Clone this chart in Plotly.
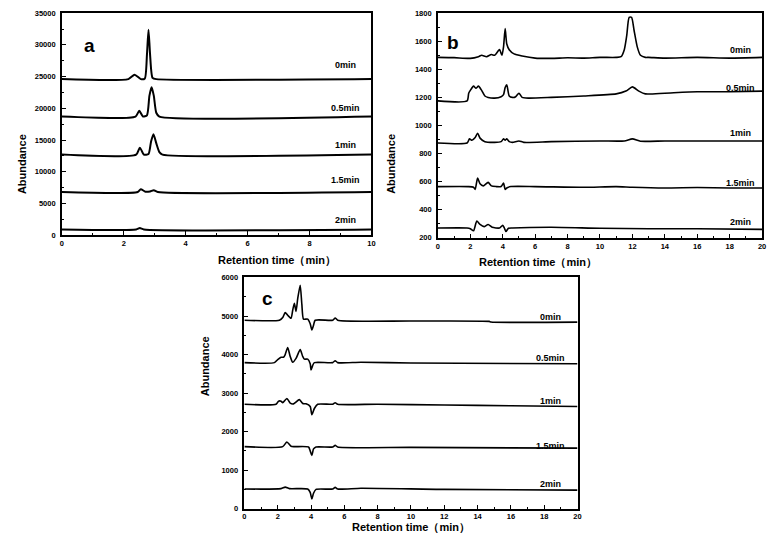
import plotly.graph_objects as go

# ---------------- data ----------------
labels = ["0min", "0.5min", "1min", "1.5min", "2min"]

# panel a
a_x = [
    [0, 2.15, 2.35, 2.55, 2.68, 2.75, 2.8, 2.85, 2.93, 3.05, 10],
    [0, 2.38, 2.5, 2.62, 2.75, 2.83, 2.9, 2.97, 3.05, 3.15, 10],
    [0, 2.4, 2.52, 2.65, 2.8, 2.88, 2.96, 3.05, 3.15, 3.25, 10],
    [0, 2.45, 2.55, 2.7, 2.85, 2.97, 3.1, 10],
    [0, 2.4, 2.52, 2.65, 10],
]
a_y = [
    [24600, 24600, 25300, 24600, 24700, 28500, 32400, 28500, 24800, 24600, 24600],
    [18700, 18700, 19600, 18700, 18900, 22000, 23300, 22000, 19300, 18700, 18700],
    [12700, 12700, 13800, 12700, 12800, 14700, 15900, 14500, 13100, 12700, 12700],
    [6800, 6800, 7250, 6850, 6900, 7100, 6800, 6800],
    [900, 900, 1130, 900, 900],
]
a_label_y = [26900, 20050, 14250, 8650, 2450]

# panel b
b_x = [
    [0, 1, 2, 2.5, 2.7, 3, 3.3, 3.5, 3.8, 3.95, 4.05, 4.15, 4.25, 4.4, 4.7, 5.2, 6, 7, 8, 9, 10, 11,
     11.3, 11.5, 11.65, 11.8, 11.95, 12.1, 12.3, 12.5, 12.8, 13, 14, 16, 18, 20],
    [0, 1.8, 1.9, 2.0, 2.2, 2.35, 2.5, 2.7, 2.9, 3.1, 3.5, 3.9, 4.05, 4.15, 4.25, 4.4, 4.6, 4.8, 5.0,
     5.2, 5.6, 7, 9, 11, 11.6, 12.0, 12.4, 12.8, 14, 16, 18, 20],
    [0, 1.8, 1.95, 2.1, 2.3, 2.45, 2.6, 2.9, 3.5, 3.9, 4.05, 4.15, 4.25, 4.4, 4.6, 5.0, 5.3, 7, 10,
     11.5, 12.0, 12.5, 14, 16, 18, 20],
    [0, 1.9, 2.2, 2.3, 2.45, 2.6, 2.8, 3.1, 3.3, 3.6, 3.9, 4.05, 4.15, 4.25, 4.5, 6, 9, 11, 12, 14,
     16, 18, 20],
    [0, 1.8, 2.0, 2.2, 2.4, 2.6, 2.85, 3.1, 3.35, 3.8, 4.0, 4.1, 4.2, 4.35, 4.6, 7, 10, 13, 16, 20],
]
b_y = [
    [1485, 1483, 1478, 1490, 1500, 1490, 1505, 1500, 1540, 1500, 1560, 1690, 1580, 1540, 1510, 1495,
     1480, 1478, 1482, 1480, 1485, 1485, 1490, 1540, 1640, 1770, 1770, 1680, 1560, 1500, 1485,
     1485, 1480, 1485, 1480, 1485],
    [1175, 1175, 1230, 1250, 1280, 1265, 1280, 1250, 1210, 1200, 1195, 1205, 1220, 1270, 1290, 1210,
     1200, 1205, 1230, 1200, 1195, 1200, 1210, 1225, 1245, 1275, 1245, 1225, 1230, 1240, 1240, 1245],
    [875, 875, 905, 895, 915, 945, 910, 885, 880, 885, 905, 895, 905, 885, 880, 890, 880, 885, 890,
     890, 905, 888, 890, 890, 890, 890],
    [565, 565, 560, 545, 625, 585, 570, 595, 570, 565, 565, 590, 545, 555, 565, 565, 560, 565, 560,
     555, 558, 555, 555],
    [270, 270, 265, 250, 320, 295, 280, 295, 275, 270, 290, 270, 245, 268, 270, 275, 268, 265, 265,
     260],
]
b_label_y = [1540, 1270, 945, 592, 312]

# panel c
c_x = [
    [0, 2.1, 2.3, 2.45, 2.6, 2.8, 2.9, 3.0, 3.1, 3.2, 3.35, 3.45, 3.55, 3.8, 3.95, 4.05, 4.15, 4.25,
     5.3, 5.45, 5.6, 10, 14.7, 14.8, 20],
    [0, 1.8, 2.0, 2.2, 2.35, 2.45, 2.6, 2.75, 2.9, 3.1, 3.35, 3.5, 3.6, 3.8, 3.95, 4.0, 4.1, 4.2,
     5.3, 5.45, 5.6, 7, 10, 20],
    [0, 1.9, 2.05, 2.2, 2.3, 2.55, 2.75, 2.95, 3.3, 3.5, 3.7, 3.95, 4.05, 4.2, 4.4, 5.3, 5.45, 5.6,
     8, 12, 16, 20],
    [0, 2.3, 2.55, 2.8, 3.0, 3.85, 3.95, 4.05, 4.15, 4.3, 5.3, 5.45, 5.6, 10, 20],
    [0, 2.2, 2.45, 2.7, 3.8, 3.95, 4.05, 4.15, 4.3, 5.3, 5.45, 5.6, 7, 12, 20],
]
c_y = [
    [4890, 4890, 4960, 5090, 5020, 4940, 5150, 5330, 5120, 5450, 5800, 5300, 4920, 4920, 4800, 4640,
     4760, 4890, 4890, 4950, 4890, 4870, 4860, 4845, 4840],
    [3790, 3790, 3870, 3930, 3930, 4000, 4180, 3950, 3800, 3900, 4130, 3950, 3880, 3880, 3760, 3600,
     3720, 3790, 3790, 3840, 3790, 3800, 3780, 3760],
    [2710, 2710, 2790, 2790, 2750, 2860, 2740, 2720, 2830, 2730, 2720, 2650, 2440, 2600, 2710, 2710,
     2750, 2710, 2710, 2690, 2670, 2650],
    [1610, 1610, 1730, 1620, 1610, 1600, 1500, 1380, 1550, 1600, 1600, 1645, 1600, 1590, 1570],
    [510, 520, 560, 520, 510, 420, 250, 400, 500, 510, 555, 510, 530, 500, 480],
]
c_label_y = [4970, 3900, 2800, 1630, 640]

panels = [
    dict(name="a", xs=a_x, ys=a_y, ly=a_label_y, lx=9.15, xr=[0, 10], yr=[0, 35000],
         xd=2, yd=5000, lw=2.0),
    dict(name="b", xs=b_x, ys=b_y, ly=b_label_y, lx=18.65, xr=[0, 20], yr=[200, 1800],
         xd=2, yd=200, lw=1.6),
    dict(name="c", xs=c_x, ys=c_y, ly=c_label_y, lx=18.4, xr=[0, 20], yr=[0, 6000],
         xd=2, yd=1000, lw=1.6),
]

W, H = 774, 553
# pixel boxes (left, top, right, bottom)
boxes = [(60.3, 9.3, 372.3, 235.0), (439.3, 9.3, 766.0, 237.7), (244.3, 278.0, 580.0, 513.0)]
ytitle_pos = [(12.3, 130), (392, 130), (197.3, 401)]
xtitle_pos = [(216, 261), (601.7, 263), (411.7, 541)]
letter_pos = [(81, 29), (454.3, 26), (267.7, 299.3)]

FONT = "Liberation Sans"
fig = go.Figure()
annotations = []

for i, p in enumerate(panels):
    sfx = "" if i == 0 else str(i + 1)
    xa, ya = "x" + sfx, "y" + sfx
    for xs, ys in zip(p["xs"], p["ys"]):
        fig.add_trace(go.Scatter(x=xs, y=ys, mode="lines", xaxis=xa, yaxis=ya,
                                 line=dict(color="black", width=p["lw"], shape="spline",
                                           smoothing=0.6),
                                 showlegend=False, hoverinfo="skip"))
    l, t, r, b = boxes[i]
    axis_common = dict(showline=True, linecolor="black", linewidth=1.5, mirror=True,
                       ticks="inside", ticklen=4, tickwidth=1.2, tickcolor="black",
                       showgrid=False, zeroline=False, tickformat="d",
                       tickfont=dict(family=FONT, size=7.5, color="black", weight="bold"))
    fig.layout["xaxis" + sfx] = dict(
        axis_common, domain=[l / W, r / W], range=p["xr"], dtick=p["xd"], tick0=0,
        anchor=ya, minor=dict(ticks="inside", ticklen=2, dtick=p["xd"] / 2, tickcolor="black"))
    fig.layout["yaxis" + sfx] = dict(
        axis_common, domain=[1 - b / H, 1 - t / H], range=p["yr"], dtick=p["yd"],
        tick0=0, anchor=xa, ticklabelstandoff=3,
        minor=dict(ticks="inside", ticklen=2, dtick=p["yd"] / 2, tickcolor="black"))
    for lab, yv in zip(labels, p["ly"]):
        annotations.append(dict(x=p["lx"], y=yv, xref=xa, yref=ya, text=lab, showarrow=False,
                                font=dict(family=FONT, size=9, color="black", weight="bold")))
    # titles
    annotations.append(dict(x=ytitle_pos[i][0] / W, y=1 - ytitle_pos[i][1] / H, xref="paper",
                            yref="paper", text="Abundance", textangle=-90, showarrow=False,
                            font=dict(family=FONT, size=11, color="black", weight="bold")))
    annotations.append(dict(x=xtitle_pos[i][0] / W, y=1 - xtitle_pos[i][1] / H, xref="paper",
                            yref="paper", text="Retention time（min）", showarrow=False,
                            font=dict(family=FONT, size=11, color="black", weight="bold")))
    annotations.append(dict(x=letter_pos[i][0] / W, y=1 - letter_pos[i][1] / H, xref="paper",
                            yref="paper", text=p["name"], showarrow=False,
                            font=dict(family=FONT, size=19, color="black", weight="bold")))

fig.update_layout(width=W, height=H, margin=dict(l=0, r=0, t=0, b=0),
                  paper_bgcolor="white", plot_bgcolor="white", annotations=annotations)
fig.write_html("out.html")
